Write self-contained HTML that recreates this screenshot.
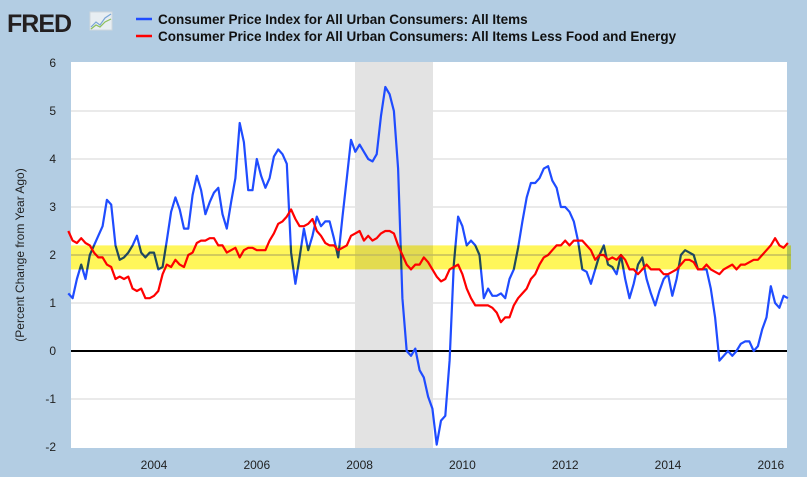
<!DOCTYPE html>
<html><head><meta charset="utf-8"><style>
body{margin:0;background:#b3cde3;font-family:"Liberation Sans",sans-serif;}
svg{display:block}
#band{mix-blend-mode:multiply}
</style></head><body>
<svg width="807" height="477" xmlns="http://www.w3.org/2000/svg">
<rect x="0" y="0" width="807" height="477" fill="#b3cde3"/>
<g>
<text x="7" y="32" font-size="25" font-weight="bold" fill="#231f20" font-family="Liberation Sans, sans-serif" letter-spacing="-1">FRED</text>
<rect x="90" y="12" width="22" height="18" fill="#e8eef2" stroke="#cfd8dd"/>
<polyline points="91,27 96,22 100,25 105,18 111,14" fill="none" stroke="#7aa6d6" stroke-width="1.2"/>
<polyline points="91,29 96,25 100,27 105,22 111,19" fill="none" stroke="#8cbf5a" stroke-width="1.2"/>
</g>
<g font-size="13.5" font-weight="bold" fill="#111">
<line x1="136" y1="19" x2="152" y2="19" stroke="#1f4cff" stroke-width="2.5"/>
<text x="158" y="24">Consumer Price Index for All Urban Consumers: All Items</text>
<line x1="136" y1="36" x2="152" y2="36" stroke="#ff0000" stroke-width="2.5"/>
<text x="158" y="41">Consumer Price Index for All Urban Consumers: All Items Less Food and Energy</text>
</g>
<rect x="71" y="62" width="716" height="386" fill="#fff"/>
<g id="grid"></g>
<rect x="355" y="62" width="78" height="386" fill="#e3e3e3"/>
<g id="zero"></g>
<g id="series"></g>
<g id="band"></g>
<g id="yticks" font-size="12" fill="#222"></g>
<g id="xticks" font-size="12" fill="#222"></g>
<text transform="translate(24,255) rotate(-90)" text-anchor="middle" font-size="12" fill="#222">(Percent Change from Year Ago)</text>
</svg>
<script>
const yTicks=[-2,-1,0,1,2,3,4,5,6];
const xTickYears=[2004,2006,2008,2010,2012,2014,2016];
const startYear=2002, startMonth=4; // May 2002 (0-based month)
const cpiAll=[1.2,1.1,1.5,1.8,1.5,2.0,2.2,2.4,
2.6,3.15,3.05,2.2,1.9,1.95,2.05,2.2,2.4,2.05,1.95,2.05,
2.05,1.7,1.75,2.3,2.9,3.2,2.95,2.55,2.55,3.25,3.65,3.35,
2.85,3.1,3.3,3.4,2.85,2.55,3.1,3.6,4.75,4.35,3.35,3.35,
4.0,3.65,3.4,3.6,4.05,4.2,4.1,3.9,2.05,1.4,1.95,2.55,
2.1,2.4,2.8,2.6,2.7,2.7,2.35,1.95,2.8,3.6,4.4,4.15,
4.3,4.15,4.0,3.95,4.1,4.9,5.5,5.35,5.0,3.8,1.1,0.0,
-0.1,0.05,-0.4,-0.55,-0.95,-1.2,-1.95,-1.45,-1.35,-0.2,1.8,2.8,
2.6,2.2,2.3,2.2,2.0,1.1,1.3,1.15,1.15,1.2,1.1,1.5,
1.7,2.15,2.7,3.2,3.5,3.5,3.6,3.8,3.85,3.55,3.4,3.0,
3.0,2.9,2.7,2.3,1.7,1.65,1.4,1.7,2.0,2.2,1.8,1.75,
1.6,2.0,1.5,1.1,1.4,1.8,1.95,1.5,1.2,0.95,1.25,1.5,
1.6,1.15,1.5,2.0,2.1,2.05,2.0,1.7,1.7,1.7,1.3,0.7,
-0.2,-0.1,-0.0,-0.1,0.0,0.15,0.2,0.2,0.0,0.1,0.45,0.7,
1.35,1.0,0.9,1.15,1.1];
const cpiCore=[2.5,2.3,2.25,2.35,2.25,2.2,2.05,1.95,
1.95,1.8,1.75,1.5,1.55,1.5,1.55,1.3,1.25,1.3,1.1,1.1,
1.15,1.25,1.6,1.8,1.75,1.9,1.8,1.75,2.0,2.05,2.25,2.3,
2.3,2.35,2.35,2.2,2.2,2.05,2.1,2.15,1.95,2.1,2.15,2.15,
2.1,2.1,2.1,2.3,2.45,2.65,2.7,2.8,2.95,2.75,2.6,2.6,
2.65,2.75,2.5,2.4,2.25,2.2,2.2,2.1,2.15,2.2,2.4,2.45,
2.5,2.3,2.4,2.3,2.35,2.45,2.5,2.5,2.45,2.2,2.0,1.8,
1.7,1.8,1.8,1.95,1.85,1.7,1.55,1.45,1.5,1.7,1.75,1.8,
1.6,1.3,1.1,0.95,0.95,0.95,0.95,0.9,0.8,0.6,0.7,0.7,
0.95,1.1,1.2,1.3,1.5,1.6,1.8,1.95,2.0,2.1,2.2,2.2,
2.3,2.2,2.3,2.3,2.3,2.2,2.1,1.9,2.0,2.0,1.9,1.95,
1.9,2.0,1.9,1.7,1.7,1.6,1.7,1.8,1.7,1.7,1.7,1.6,
1.6,1.65,1.7,1.8,1.9,1.9,1.85,1.7,1.7,1.8,1.7,1.65,
1.6,1.7,1.75,1.8,1.7,1.8,1.8,1.85,1.9,1.9,2.0,2.1,
2.2,2.35,2.2,2.15,2.25];
const bandLow=1.7, bandHigh=2.2;
const NS="http://www.w3.org/2000/svg";
function yS(v){return 351-v*48;}
function xS(monthsSince2004){return 154+monthsSince2004*51.4/12;}
function xIdx(i){return xS((startYear-2004)*12+startMonth+i);}
function mk(tag,attrs,parent){const e=document.createElementNS(NS,tag);for(const k in attrs)e.setAttribute(k,attrs[k]);document.getElementById(parent).appendChild(e);return e;}
yTicks.forEach(v=>{
  if(v!==0&&v!==-2&&v!==6){const g=mk('line',{x1:71,x2:787,y1:yS(v),y2:yS(v),stroke:'#d4d4d4','stroke-width':1},'grid');
  
  }
  const t=mk('text',{x:56,y:yS(v)+4,'text-anchor':'end'},'yticks');
  t.textContent=v;
  
  
});
xTickYears.forEach(y=>{
  const t=mk('text',{x:xS((y-2004)*12),y:469,'text-anchor':'middle'},'xticks');
  t.textContent=y;
  
  
});
const z=mk('line',{x1:71,x2:787,y1:yS(0),y2:yS(0),stroke:'#000','stroke-width':2},'zero');


function pts(arr){return arr.map((v,i)=>xIdx(i).toFixed(1)+','+yS(v).toFixed(1)).join(' ');}
const l1=mk('polyline',{points:pts(cpiAll),fill:'none',stroke:'#1f4cff','stroke-width':2.2,'stroke-linejoin':'round'},'series');


const l2=mk('polyline',{points:pts(cpiCore),fill:'none',stroke:'#ff0000','stroke-width':2.2,'stroke-linejoin':'round'},'series');


const b=mk('rect',{x:71,y:yS(bandHigh),width:720,height:yS(bandLow)-yS(bandHigh),fill:'#fff65a'},'band');


const bl=mk('line',{x1:71,x2:791,y1:yS(2),y2:yS(2),stroke:'#c8c070','stroke-width':1},'band');


</script>
</body></html>
